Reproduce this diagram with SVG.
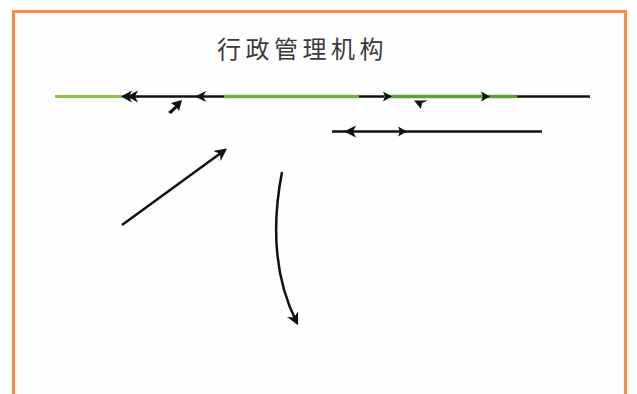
<svg xmlns="http://www.w3.org/2000/svg" width="637" height="394" viewBox="0 0 637 394">
<style>
.blk{stroke:#111;stroke-width:2.5;fill:none}
.grn{stroke:#8cc24a;stroke-width:3;fill:none}
.grn2{stroke:#5c9e3c;stroke-width:3.5;fill:none}
.ah{fill:#111;stroke:none}
.title{font-family:"Noto Sans CJK SC","Noto Sans",sans-serif;font-size:24px;fill:#3a3a3a;letter-spacing:4.5px}
</style>
<defs>
<marker id="arr" viewBox="0 0 10 10" refX="8" refY="5" markerWidth="5" markerHeight="5" orient="auto-start-reverse" markerUnits="strokeWidth">
<path d="M0,0 L10,5 L0,10 L3,5 z" fill="#111"/>
</marker>
</defs>
<rect width="637" height="394" fill="#fff"/>
<rect x="13.5" y="11.5" width="612" height="390" fill="#fefefe" stroke="#f0904a" stroke-width="3"/>
<g id="title"><text class="title" x="217" y="58">行政管理机构</text></g>
<g id="connectors">
<line class="grn" x1="55" y1="96.5" x2="123" y2="96.5"/>
<line class="blk" x1="123" y1="96.5" x2="224" y2="96.5"/>
<path class="ah" d="M121,96.5 L132,90.5 L129,96.5 L132,102.5 z"/>
<path class="ah" d="M127,96.5 L138,90.5 L135,96.5 L138,102.5 z"/>
<path class="ah" d="M195,96.5 L206,91 L203,96.5 L206,102 z"/>
<path class="ah" d="M182,100 L171,103 L175,106 L168,112 L171,114 L177,108 L179,111 z"/>
<line class="grn2" x1="224" y1="96.5" x2="359" y2="96.5" style="stroke:#72ad45"/>
<line class="blk" x1="359" y1="96.5" x2="384" y2="96.5"/>
<line class="grn2" x1="384" y1="96.5" x2="517" y2="96.5"/>
<path class="ah" d="M392,96.5 L383,91.5 L385,96.5 L383,101.5 z"/>
<path class="ah" d="M490,96.5 L481,91.5 L483,96.5 L481,101.5 z"/>
<line class="blk" x1="517" y1="96.5" x2="590" y2="96.5"/>
<path class="ah" d="M414,100.5 L428,100.5 L422,103 L421,109 z"/>
<line class="blk" x1="332" y1="131.5" x2="542" y2="131.5"/>
<path class="ah" d="M344,131.5 L356,125.5 L353,131.5 L356,137.5 z"/>
<path class="ah" d="M407,131.5 L398,126.5 L400,131.5 L398,136.5 z"/>
<line class="blk" x1="122" y1="225" x2="225" y2="150" marker-end="url(#arr)"/>
<path class="blk" d="M282,172 Q265,260 297,323" marker-end="url(#arr)"/>
</g>
</svg>
